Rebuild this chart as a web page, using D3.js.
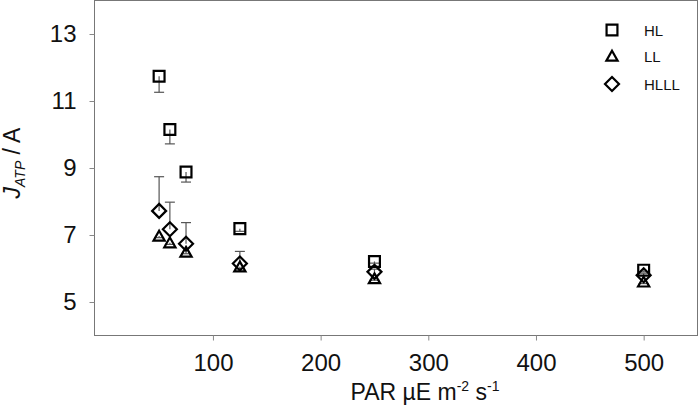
<!DOCTYPE html>
<html>
<head>
<meta charset="utf-8">
<script src="https://cdn.jsdelivr.net/npm/d3@7"></script>
<style>
  body { margin: 0; background: #fff; }
  text { font-family: "Liberation Sans", Arial, sans-serif; }
</style>
</head>
<body>
<svg id="chart" width="700" height="407"></svg>
<script>
// PAR levels
const par = [50, 60, 75, 125, 250, 500];

// series means
const hl = [11.74, 10.15, 8.88, 7.19, 6.21, 5.95];
const ll = [6.97, 6.77, 6.49, 6.05, 5.70, 5.60];
const hlll = [7.72, 7.17, 6.74, 6.15, 5.90, 5.80];

// one-sided error bars (HL drawn down, HLLL drawn up)
const hlErr = [0.48, 0.43, 0.30, 0.08, 0.05, 0.05];
const llErr = [0.05, 0.05, 0.05, 0.05, 0.05, 0.05];
const hlllErr = [1.02, 0.81, 0.63, 0.36, 0.08, 0.06];

const xTicks = [100, 200, 300, 400, 500];
const yTicks = [5, 7, 9, 11, 13];

const series = [
  { name: 'HL', values: hl, err: hlErr, dir: -1, shape: 'square' },
  { name: 'LL', values: ll, err: llErr, dir: -1, shape: 'triangle' },
  { name: 'HLLL', values: hlll, err: hlllErr, dir: 1, shape: 'diamond' }
];

const box = { left: 94.5, top: 0.5, right: 697.5, bottom: 335.5 };

const x = d3.scaleLinear().domain([-10, 550]).range([box.left, box.right]);
const y = d3.scaleLinear().domain([4, 14]).range([box.bottom, box.top]);

const svg = d3.select('#chart');

function markerPath(shape) {
  if (shape === 'square') {
    return d3.symbol().type(d3.symbolSquare).size(118)();
  }
  if (shape === 'triangle') {
    return 'M0,-5.2L5.6,4.6L-5.6,4.6Z';
  }
  return 'M0,-7L7,0L0,7L-7,0Z';
}

// frame
svg
  .append('rect')
  .attr('x', box.left)
  .attr('y', box.top)
  .attr('width', box.right - box.left)
  .attr('height', box.bottom - box.top)
  .attr('fill', 'none')
  .attr('stroke', '#777')
  .attr('stroke-width', 1)
  ;

// axes
const xAxis = svg
  .append('g')
  .attr('transform', `translate(0,${box.bottom})`)
  .call(d3.axisBottom(x).tickValues(xTicks).tickSize(5).tickPadding(13))
  ;

const yAxis = svg
  .append('g')
  .attr('transform', `translate(${box.left},0)`)
  .call(d3.axisLeft(y).tickValues(yTicks).tickSize(5).tickPadding(13))
  ;

[xAxis, yAxis].forEach(function(g) {
  g.select('.domain').remove();
  g.selectAll('.tick line').attr('stroke', '#888');
  g.selectAll('.tick text')
    .style('font-size', '24px')
    .style('font-family', '"Liberation Sans", Arial, sans-serif')
    .attr('fill', '#111');
});

// error bars, then open markers on top
series.forEach(function(s) {
  const g = svg.append('g');
  par.forEach(function(p, i) {
    const cx = x(p);
    const cy = y(s.values[i]);
    const ey = y(s.values[i] + s.dir * s.err[i]);
    g.append('line')
      .attr('x1', cx).attr('x2', cx)
      .attr('y1', cy).attr('y2', ey)
      .attr('stroke', '#555')
      .attr('stroke-width', 1.2);
    g.append('line')
      .attr('x1', cx - 5).attr('x2', cx + 5)
      .attr('y1', ey).attr('y2', ey)
      .attr('stroke', '#555')
      .attr('stroke-width', 1.2);
  });
});

series.forEach(function(s) {
  svg
    .append('g')
    .selectAll('path')
    .data(par)
    .join('path')
    .attr('d', markerPath(s.shape))
    .attr('transform', (p, i) => `translate(${x(p)},${y(s.values[i])})`)
    .attr('fill', 'none')
    .attr('stroke', '#000')
    .attr('stroke-width', 2.2)
    ;
});

// legend
const legend = svg
  .append('g')
  .selectAll('g')
  .data(series)
  .join('g')
  .attr('transform', (s, i) => `translate(612,${[30, 56, 84][i]})`)
  ;

legend
  .append('path')
  .attr('d', s => markerPath(s.shape))
  .attr('fill', 'none')
  .attr('stroke', '#000')
  .attr('stroke-width', 2.2)
  ;

legend
  .append('text')
  .attr('x', 32)
  .attr('y', 5.5)
  .attr('fill', '#111')
  .style('font-size', '15px')
  .text(s => s.name)
  ;

// axis titles
svg
  .append('text')
  .attr('x', 425)
  .attr('y', 400)
  .attr('text-anchor', 'middle')
  .attr('fill', '#111')
  .style('font-size', '23px')
  .call(function(t) {
    t.append('tspan').text('PAR \u00b5E m');
    t.append('tspan').attr('dy', -9).style('font-size', '14px').text('-2');
    t.append('tspan').attr('dy', 9).text(' s');
    t.append('tspan').attr('dy', -9).style('font-size', '14px').text('-1');
  })
  ;

svg
  .append('text')
  .attr('transform', 'translate(20,163) rotate(-90)')
  .attr('text-anchor', 'middle')
  .attr('fill', '#111')
  .style('font-size', '23px')
  .call(function(t) {
    t.append('tspan').style('font-style', 'italic').text('J');
    t.append('tspan').attr('dy', 5).style('font-size', '14px').style('font-style', 'italic').text('ATP');
    t.append('tspan').attr('dy', -5).text(' / A');
  })
  ;
</script>
</body>
</html>
